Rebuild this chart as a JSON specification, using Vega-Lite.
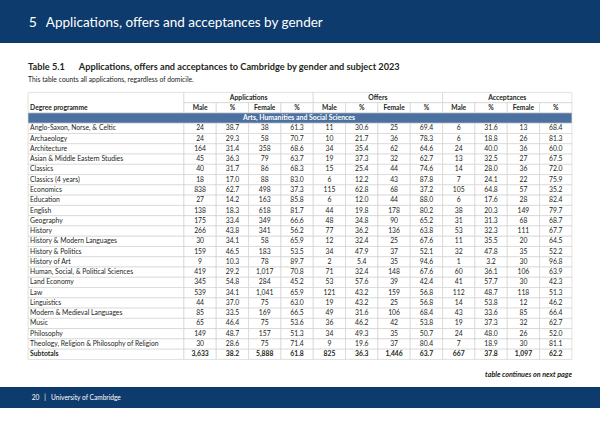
{
  "$schema": "https://vega.github.io/schema/vega-lite/v6.json",
  "width": 600,
  "height": 424,
  "padding": 0,
  "autosize": {"type": "fit", "contains": "padding"},
  "background": "white",
  "config": {"view": {"stroke": null}, "text": {"font": "Lato", "color": "#231f20"}},
  "datasets": {
    "rows": [
      {"programme": "Anglo-Saxon, Norse, & Celtic", "app_m": 24, "app_mp": 38.7, "app_f": 38, "app_fp": 61.3, "off_m": 11, "off_mp": 30.6, "off_f": 25, "off_fp": 69.4, "acc_m": 6, "acc_mp": 31.6, "acc_f": 13, "acc_fp": 68.4},
      {"programme": "Archaeology", "app_m": 24, "app_mp": 29.3, "app_f": 58, "app_fp": 70.7, "off_m": 10, "off_mp": 21.7, "off_f": 36, "off_fp": 78.3, "acc_m": 6, "acc_mp": 18.8, "acc_f": 26, "acc_fp": 81.3},
      {"programme": "Architecture", "app_m": 164, "app_mp": 31.4, "app_f": 358, "app_fp": 68.6, "off_m": 34, "off_mp": 35.4, "off_f": 62, "off_fp": 64.6, "acc_m": 24, "acc_mp": 40.0, "acc_f": 36, "acc_fp": 60.0},
      {"programme": "Asian & Middle Eastern Studies", "app_m": 45, "app_mp": 36.3, "app_f": 79, "app_fp": 63.7, "off_m": 19, "off_mp": 37.3, "off_f": 32, "off_fp": 62.7, "acc_m": 13, "acc_mp": 32.5, "acc_f": 27, "acc_fp": 67.5},
      {"programme": "Classics", "app_m": 40, "app_mp": 31.7, "app_f": 86, "app_fp": 68.3, "off_m": 15, "off_mp": 25.4, "off_f": 44, "off_fp": 74.6, "acc_m": 14, "acc_mp": 28.0, "acc_f": 36, "acc_fp": 72.0},
      {"programme": "Classics (4 years)", "app_m": 18, "app_mp": 17.0, "app_f": 88, "app_fp": 83.0, "off_m": 6, "off_mp": 12.2, "off_f": 43, "off_fp": 87.8, "acc_m": 7, "acc_mp": 24.1, "acc_f": 22, "acc_fp": 75.9},
      {"programme": "Economics", "app_m": 838, "app_mp": 62.7, "app_f": 498, "app_fp": 37.3, "off_m": 115, "off_mp": 62.8, "off_f": 68, "off_fp": 37.2, "acc_m": 105, "acc_mp": 64.8, "acc_f": 57, "acc_fp": 35.2},
      {"programme": "Education", "app_m": 27, "app_mp": 14.2, "app_f": 163, "app_fp": 85.8, "off_m": 6, "off_mp": 12.0, "off_f": 44, "off_fp": 88.0, "acc_m": 6, "acc_mp": 17.6, "acc_f": 28, "acc_fp": 82.4},
      {"programme": "English", "app_m": 138, "app_mp": 18.3, "app_f": 618, "app_fp": 81.7, "off_m": 44, "off_mp": 19.8, "off_f": 178, "off_fp": 80.2, "acc_m": 38, "acc_mp": 20.3, "acc_f": 149, "acc_fp": 79.7},
      {"programme": "Geography", "app_m": 175, "app_mp": 33.4, "app_f": 349, "app_fp": 66.6, "off_m": 48, "off_mp": 34.8, "off_f": 90, "off_fp": 65.2, "acc_m": 31, "acc_mp": 31.3, "acc_f": 68, "acc_fp": 68.7},
      {"programme": "History", "app_m": 266, "app_mp": 43.8, "app_f": 341, "app_fp": 56.2, "off_m": 77, "off_mp": 36.2, "off_f": 136, "off_fp": 63.8, "acc_m": 53, "acc_mp": 32.3, "acc_f": 111, "acc_fp": 67.7},
      {"programme": "History & Modern Languages", "app_m": 30, "app_mp": 34.1, "app_f": 58, "app_fp": 65.9, "off_m": 12, "off_mp": 32.4, "off_f": 25, "off_fp": 67.6, "acc_m": 11, "acc_mp": 35.5, "acc_f": 20, "acc_fp": 64.5},
      {"programme": "History & Politics", "app_m": 159, "app_mp": 46.5, "app_f": 183, "app_fp": 53.5, "off_m": 34, "off_mp": 47.9, "off_f": 37, "off_fp": 52.1, "acc_m": 32, "acc_mp": 47.8, "acc_f": 35, "acc_fp": 52.2},
      {"programme": "History of Art", "app_m": 9, "app_mp": 10.3, "app_f": 78, "app_fp": 89.7, "off_m": 2, "off_mp": 5.4, "off_f": 35, "off_fp": 94.6, "acc_m": 1, "acc_mp": 3.2, "acc_f": 30, "acc_fp": 96.8},
      {"programme": "Human, Social, & Political Sciences", "app_m": 419, "app_mp": 29.2, "app_f": 1017, "app_fp": 70.8, "off_m": 71, "off_mp": 32.4, "off_f": 148, "off_fp": 67.6, "acc_m": 60, "acc_mp": 36.1, "acc_f": 106, "acc_fp": 63.9},
      {"programme": "Land Economy", "app_m": 345, "app_mp": 54.8, "app_f": 284, "app_fp": 45.2, "off_m": 53, "off_mp": 57.6, "off_f": 39, "off_fp": 42.4, "acc_m": 41, "acc_mp": 57.7, "acc_f": 30, "acc_fp": 42.3},
      {"programme": "Law", "app_m": 539, "app_mp": 34.1, "app_f": 1041, "app_fp": 65.9, "off_m": 121, "off_mp": 43.2, "off_f": 159, "off_fp": 56.8, "acc_m": 112, "acc_mp": 48.7, "acc_f": 118, "acc_fp": 51.3},
      {"programme": "Linguistics", "app_m": 44, "app_mp": 37.0, "app_f": 75, "app_fp": 63.0, "off_m": 19, "off_mp": 43.2, "off_f": 25, "off_fp": 56.8, "acc_m": 14, "acc_mp": 53.8, "acc_f": 12, "acc_fp": 46.2},
      {"programme": "Modern & Medieval Languages", "app_m": 85, "app_mp": 33.5, "app_f": 169, "app_fp": 66.5, "off_m": 49, "off_mp": 31.6, "off_f": 106, "off_fp": 68.4, "acc_m": 43, "acc_mp": 33.6, "acc_f": 85, "acc_fp": 66.4},
      {"programme": "Music", "app_m": 65, "app_mp": 46.4, "app_f": 75, "app_fp": 53.6, "off_m": 36, "off_mp": 46.2, "off_f": 42, "off_fp": 53.8, "acc_m": 19, "acc_mp": 37.3, "acc_f": 32, "acc_fp": 62.7},
      {"programme": "Philosophy", "app_m": 149, "app_mp": 48.7, "app_f": 157, "app_fp": 51.3, "off_m": 34, "off_mp": 49.3, "off_f": 35, "off_fp": 50.7, "acc_m": 24, "acc_mp": 48.0, "acc_f": 26, "acc_fp": 52.0},
      {"programme": "Theology, Religion & Philosophy of Religion", "app_m": 30, "app_mp": 28.6, "app_f": 75, "app_fp": 71.4, "off_m": 9, "off_mp": 19.6, "off_f": 37, "off_fp": 80.4, "acc_m": 7, "acc_mp": 18.9, "acc_f": 30, "acc_fp": 81.1},
      {"programme": "Subtotals", "app_m": 3633, "app_mp": 38.2, "app_f": 5888, "app_fp": 61.8, "off_m": 825, "off_mp": 36.3, "off_f": 1446, "off_fp": 63.7, "acc_m": 667, "acc_mp": 37.8, "acc_f": 1097, "acc_fp": 62.2}
    ],
    "groups": [
      {"group": "Applications", "first": "app_m", "last": "app_fp"},
      {"group": "Offers", "first": "off_m", "last": "off_fp"},
      {"group": "Acceptances", "first": "acc_m", "last": "acc_fp"}
    ],
    "colhdr": [
      {"col": "app_m", "label": "Male"}, {"col": "app_mp", "label": "%"}, {"col": "app_f", "label": "Female"}, {"col": "app_fp", "label": "%"},
      {"col": "off_m", "label": "Male"}, {"col": "off_mp", "label": "%"}, {"col": "off_f", "label": "Female"}, {"col": "off_fp", "label": "%"},
      {"col": "acc_m", "label": "Male"}, {"col": "acc_mp", "label": "%"}, {"col": "acc_f", "label": "Female"}, {"col": "acc_fp", "label": "%"}
    ],
    "one": [{"k": 1}]
  },
  "layer": [
    {
      "data": {"name": "one"},
      "mark": {"type": "rect", "color": "#0e3b6d", "y2Offset": 2},
      "encoding": {
        "y": {"datum": "pg1", "type": "nominal", "bandPosition": 0, "axis": null, "scale": {"type": "band", "domain": ["pg1","pg2","pg3","pg4","sp1","sp2","title","subtitle","sp3","hdr1","hdr2","section","Anglo-Saxon, Norse, & Celtic","Archaeology","Architecture","Asian & Middle Eastern Studies","Classics","Classics (4 years)","Economics","Education","English","Geography","History","History & Modern Languages","History & Politics","History of Art","Human, Social, & Political Sciences","Land Economy","Law","Linguistics","Modern & Medieval Languages","Music","Philosophy","Theology, Religion & Philosophy of Religion","Subtotals","sp4","continues","ft1","ft2","sp5","sp6"], "paddingInner": 0, "paddingOuter": 0.143, "align": 0}},
        "y2": {"datum": "pg4", "bandPosition": 1}
      }
    },
    {
      "data": {"name": "one"},
      "mark": {"type": "rect", "color": "#0e3b6d"},
      "encoding": {
        "y": {"datum": "ft1", "type": "nominal", "bandPosition": 0.68, "axis": null},
        "y2": {"datum": "sp5", "bandPosition": 0.73}
      }
    },
    {
      "data": {"name": "one"},
      "mark": {"type": "text", "text": "5", "align": "left", "baseline": "middle", "fontSize": 14, "color": "white"},
      "encoding": {
        "x": {"datum": "D1", "type": "nominal", "bandPosition": 0.2, "axis": null, "scale": {"type": "band", "domain": ["D1","D2","D3","D4","D5","app_m","app_mp","app_f","app_fp","off_m","off_mp","off_f","off_fp","acc_m","acc_mp","acc_f","acc_fp"], "paddingInner": 0, "paddingOuter": 0.779, "align": 0.442}},
        "y": {"datum": "pg3", "type": "nominal", "bandPosition": 0.25, "axis": null}
      }
    },
    {
      "data": {"name": "one"},
      "mark": {"type": "text", "text": "Applications, offers and acceptances by gender", "align": "left", "baseline": "middle", "fontSize": 13.5, "color": "white"},
      "encoding": {
        "x": {"datum": "D1", "type": "nominal", "bandPosition": 0.73, "axis": null},
        "y": {"datum": "pg3", "type": "nominal", "bandPosition": 0.25, "axis": null}
      }
    },
    {
      "data": {"name": "one"},
      "mark": {"type": "text", "text": "Table 5.1", "align": "left", "baseline": "middle", "fontSize": 9.2, "fontWeight": "bold"},
      "encoding": {
        "x": {"datum": "D1", "type": "nominal", "bandPosition": 0.18, "axis": null},
        "y": {"datum": "title", "type": "nominal", "axis": null}
      }
    },
    {
      "data": {"name": "one"},
      "mark": {"type": "text", "text": "Applications, offers and acceptances to Cambridge by gender and subject 2023", "align": "left", "baseline": "middle", "fontSize": 9.2, "fontWeight": "bold"},
      "encoding": {
        "x": {"datum": "D2", "type": "nominal", "bandPosition": 0.75, "axis": null},
        "y": {"datum": "title", "type": "nominal", "axis": null}
      }
    },
    {
      "data": {"name": "one"},
      "mark": {"type": "text", "text": "This table counts all applications, regardless of domicile.", "align": "left", "baseline": "middle", "fontSize": 6.8},
      "encoding": {
        "x": {"datum": "D1", "type": "nominal", "bandPosition": 0.18, "axis": null},
        "y": {"datum": "subtitle", "type": "nominal", "bandPosition": 0.8, "axis": null}
      }
    },
    {
      "data": {"name": "one"},
      "mark": {"type": "rect", "fill": "white", "stroke": "#cfcfcf", "strokeWidth": 0.6},
      "encoding": {
        "x": {"datum": "D1", "type": "nominal", "bandPosition": 0.18, "axis": null},
        "x2": {"datum": "D5", "bandPosition": 1},
        "y": {"datum": "hdr1", "type": "nominal", "bandPosition": 0, "axis": null},
        "y2": {"datum": "hdr2", "bandPosition": 1}
      }
    },
    {
      "data": {"name": "one"},
      "mark": {"type": "text", "text": "Degree programme", "align": "left", "baseline": "middle", "fontSize": 6.7, "fontWeight": "bold", "dx": 2},
      "encoding": {
        "x": {"datum": "D1", "type": "nominal", "bandPosition": 0.18, "axis": null},
        "y": {"datum": "hdr2", "type": "nominal", "axis": null}
      }
    },
    {
      "data": {"name": "groups"},
      "mark": {"type": "rect", "fill": "white", "stroke": "#cfcfcf", "strokeWidth": 0.6},
      "encoding": {
        "x": {"field": "first", "type": "nominal", "bandPosition": 0, "axis": null},
        "x2": {"field": "last", "bandPosition": 1},
        "y": {"datum": "hdr1", "type": "nominal", "axis": null}
      }
    },
    {
      "data": {"name": "groups"},
      "mark": {"type": "text", "align": "center", "baseline": "middle", "fontSize": 6.8, "fontWeight": "bold"},
      "encoding": {
        "x": {"field": "first", "type": "nominal", "bandPosition": 2, "axis": null},
        "y": {"datum": "hdr1", "type": "nominal", "axis": null},
        "text": {"field": "group"}
      }
    },
    {
      "data": {"name": "colhdr"},
      "mark": {"type": "rect", "fill": "white", "stroke": "#cfcfcf", "strokeWidth": 0.6},
      "encoding": {
        "x": {"field": "col", "type": "nominal", "axis": null},
        "y": {"datum": "hdr2", "type": "nominal", "axis": null}
      }
    },
    {
      "data": {"name": "colhdr"},
      "mark": {"type": "text", "align": "center", "baseline": "middle", "fontSize": 6.7, "fontWeight": "bold"},
      "encoding": {
        "x": {"field": "col", "type": "nominal", "axis": null},
        "y": {"datum": "hdr2", "type": "nominal", "axis": null},
        "text": {"field": "label"}
      }
    },
    {
      "data": {"name": "one"},
      "mark": {"type": "rect", "fill": "#4c71a0", "stroke": "#cfcfcf", "strokeWidth": 0.6},
      "encoding": {
        "x": {"datum": "D1", "type": "nominal", "bandPosition": 0.18, "axis": null},
        "x2": {"datum": "acc_fp", "bandPosition": 1},
        "y": {"datum": "section", "type": "nominal", "axis": null}
      }
    },
    {
      "data": {"name": "one"},
      "mark": {"type": "text", "text": "Arts, Humanities and Social Sciences", "align": "center", "baseline": "middle", "fontSize": 6.9, "fontWeight": "bold", "color": "white"},
      "encoding": {
        "x": {"datum": "D1", "type": "nominal", "bandPosition": 8.56, "axis": null},
        "y": {"datum": "section", "type": "nominal", "axis": null}
      }
    },
    {
      "data": {"name": "rows"},
      "mark": {"type": "rect", "fill": "white", "stroke": "#cfcfcf", "strokeWidth": 0.6},
      "encoding": {
        "x": {"datum": "D1", "type": "nominal", "bandPosition": 0.18, "axis": null},
        "x2": {"datum": "D5", "bandPosition": 1},
        "y": {"field": "programme", "type": "nominal", "axis": null}
      }
    },
    {
      "data": {"name": "rows"},
      "transform": [{"fold": ["app_m","app_mp","app_f","app_fp","off_m","off_mp","off_f","off_fp","acc_m","acc_mp","acc_f","acc_fp"], "as": ["col", "v"]}],
      "mark": {"type": "rect", "fill": "white", "stroke": "#cfcfcf", "strokeWidth": 0.6},
      "encoding": {
        "x": {"field": "col", "type": "nominal", "axis": null},
        "y": {"field": "programme", "type": "nominal", "axis": null}
      }
    },
    {
      "data": {"name": "rows"},
      "mark": {"type": "text", "align": "left", "baseline": "middle", "fontSize": 6.8, "dx": 2, "fontWeight": {"expr": "datum.programme === 'Subtotals' ? 'bold' : 'normal'"}},
      "encoding": {
        "x": {"datum": "D1", "type": "nominal", "bandPosition": 0.18, "axis": null},
        "y": {"field": "programme", "type": "nominal", "axis": null},
        "text": {"field": "programme"}
      }
    },
    {
      "data": {"name": "rows"},
      "transform": [{"fold": ["app_m","app_f","off_m","off_f","acc_m","acc_f"], "as": ["col", "n"]}],
      "mark": {"type": "text", "align": "center", "baseline": "middle", "fontSize": 6.8, "fontWeight": {"expr": "datum.programme === 'Subtotals' ? 'bold' : 'normal'"}},
      "encoding": {
        "x": {"field": "col", "type": "nominal", "axis": null},
        "y": {"field": "programme", "type": "nominal", "axis": null},
        "text": {"field": "n", "type": "quantitative", "format": ",d"}
      }
    },
    {
      "data": {"name": "rows"},
      "transform": [{"fold": ["app_mp","app_fp","off_mp","off_fp","acc_mp","acc_fp"], "as": ["col", "pct"]}],
      "mark": {"type": "text", "align": "center", "baseline": "middle", "fontSize": 6.8, "fontWeight": {"expr": "datum.programme === 'Subtotals' ? 'bold' : 'normal'"}},
      "encoding": {
        "x": {"field": "col", "type": "nominal", "axis": null},
        "y": {"field": "programme", "type": "nominal", "axis": null},
        "text": {"field": "pct", "type": "quantitative", "format": ".1f"}
      }
    },
    {
      "data": {"name": "one"},
      "mark": {"type": "text", "text": "table continues on next page", "align": "right", "baseline": "middle", "fontSize": 7.2, "fontWeight": "bold", "fontStyle": "italic"},
      "encoding": {
        "x": {"datum": "acc_fp", "type": "nominal", "bandPosition": 1, "axis": null},
        "y": {"datum": "continues", "type": "nominal", "axis": null}
      }
    },
    {
      "data": {"name": "one"},
      "mark": {"type": "text", "text": "20\u00a0\u00a0\u00a0|\u00a0\u00a0\u00a0University of Cambridge", "align": "left", "baseline": "middle", "fontSize": 6.6, "color": "white"},
      "encoding": {
        "x": {"datum": "D1", "type": "nominal", "bandPosition": 0.29, "axis": null},
        "y": {"datum": "ft2", "type": "nominal", "bandPosition": 0.74, "axis": null}
      }
    }
  ]
}
